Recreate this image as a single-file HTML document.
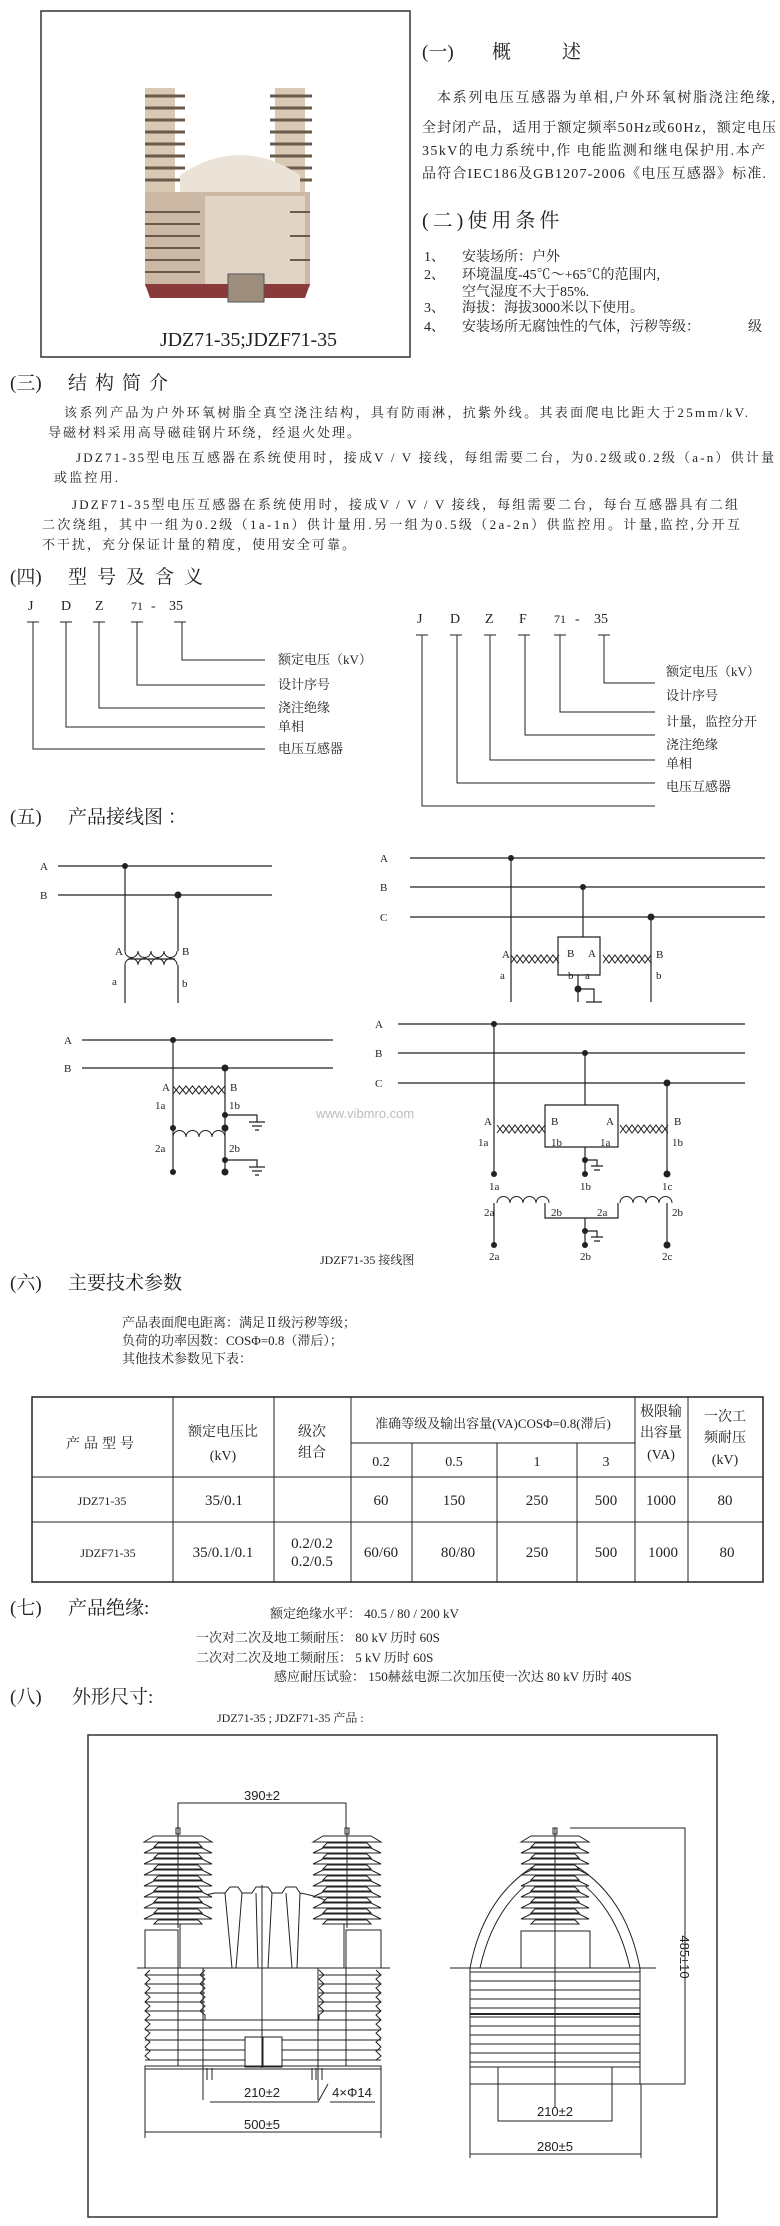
<!DOCTYPE html>
<html><head><meta charset="utf-8"><style>
html,body{margin:0;padding:0;background:#fff}
svg{display:block}
text{font-family:"Liberation Serif","Noto Serif CJK SC",serif;fill:#222}
.s{font-family:"Liberation Sans","Noto Sans CJK SC",sans-serif}
</style></head><body>
<svg width="780" height="2226" viewBox="0 0 780 2226" xmlns="http://www.w3.org/2000/svg">
<defs>
<g id="ins" fill="#fff" stroke="#222" stroke-width="1">
<rect x="-2" y="-6" width="4" height="6"/>
<polygon points="-34,8 -24,2 24,2 34,8 24,8 -24,8"/>
<polygon points="-24,13 -20,9 20,9 24,13"/>
<polygon points="-34,19 -24,14 24,14 34,19"/>
<polygon points="-24,24 -20,20 20,20 24,24"/>
<polygon points="-34,30 -24,25 24,25 34,30"/>
<polygon points="-24,35 -20,31 20,31 24,35"/>
<polygon points="-34,41 -24,36 24,36 34,41"/>
<polygon points="-24,46 -20,42 20,42 24,46"/>
<polygon points="-34,52 -24,47 24,47 34,52"/>
<polygon points="-24,57 -20,53 20,53 24,57"/>
<polygon points="-34,63 -24,58 24,58 34,63"/>
<polygon points="-24,68 -20,64 20,64 24,68"/>
<polygon points="-34,74 -24,69 24,69 34,74"/>
<polygon points="-24,79 -20,75 20,75 24,79"/>
<polygon points="-34,85 -24,80 24,80 34,85"/>
<polygon points="-24,90 -20,86 20,86 24,90"/>
<line x1="0" y1="-6" x2="0" y2="94"/>
</g>
<g id="xf" fill="none" stroke="#222" stroke-width="1">
<path d="M0,-4 l6,8 l6,-8 l6,8 l6,-8 l6,8 l6,-8 l6,8 l6,-8"/>
<path d="M0,4 l6,-8 l6,8 l6,-8 l6,8 l6,-8 l6,8 l6,-8 l6,8"/>
</g>
<g id="cl" fill="none" stroke="#222" stroke-width="1">
<path d="M0,0 a6.5,6.5 0 0 1 13,0 a6.5,6.5 0 0 1 13,0 a6.5,6.5 0 0 1 13,0 a6.5,6.5 0 0 1 13,0"/>
</g>
</defs>

<!-- Photo box -->
<rect x="41" y="11" width="369" height="346" fill="#fff" stroke="#333" stroke-width="1.5"/>
<g>
<rect x="145" y="88" width="30" height="110" fill="#d8c8b4"/>
<rect x="275" y="88" width="30" height="110" fill="#d8c8b4"/>
<g stroke="#6b5a4a" stroke-width="3">
<line x1="145" y1="96" x2="185" y2="96"/><line x1="145" y1="108" x2="185" y2="108"/><line x1="145" y1="120" x2="185" y2="120"/><line x1="145" y1="132" x2="185" y2="132"/><line x1="145" y1="144" x2="185" y2="144"/><line x1="145" y1="156" x2="185" y2="156"/><line x1="145" y1="168" x2="185" y2="168"/><line x1="145" y1="180" x2="185" y2="180"/>
<line x1="270" y1="96" x2="312" y2="96"/><line x1="270" y1="108" x2="312" y2="108"/><line x1="270" y1="120" x2="312" y2="120"/><line x1="270" y1="132" x2="312" y2="132"/><line x1="270" y1="144" x2="312" y2="144"/><line x1="270" y1="156" x2="312" y2="156"/><line x1="270" y1="168" x2="312" y2="168"/><line x1="270" y1="180" x2="312" y2="180"/>
</g>
<path d="M180,260 L180,175 Q240,135 300,175 L300,260 Z" fill="#ebe3d8"/>
<rect x="145" y="192" width="165" height="95" fill="#cbb9a5"/>
<rect x="205" y="196" width="100" height="90" fill="#e0d4c6"/>
<g stroke="#6b5a4a" stroke-width="2"><line x1="145" y1="212" x2="200" y2="212"/><line x1="145" y1="224" x2="200" y2="224"/><line x1="145" y1="236" x2="200" y2="236"/><line x1="145" y1="248" x2="200" y2="248"/><line x1="145" y1="260" x2="200" y2="260"/><line x1="145" y1="272" x2="200" y2="272"/><line x1="290" y1="212" x2="310" y2="212"/><line x1="290" y1="236" x2="310" y2="236"/><line x1="290" y1="260" x2="310" y2="260"/></g>
<path d="M145,284 L310,284 L305,298 L150,298 Z" fill="#8a3a3a"/>
<rect x="228" y="274" width="36" height="28" fill="#9d8d7d" stroke="#555"/>
</g>
<text x="160" y="346" font-size="20" textLength="177">JDZ71-35;JDZF71-35</text>

<!-- (一) -->
<text x="422" y="58" font-size="19">(一)</text>
<text x="492" y="58" font-size="19">概</text><text x="562" y="58" font-size="19">述</text>
<g font-size="14">
<text x="437" y="102" textLength="338">本系列电压互感器为单相,户外环氧树脂浇注绝缘,</text>
<text x="422" y="132" textLength="354">全封闭产品，适用于额定频率50Hz或60Hz，额定电压</text>
<text x="422" y="155" textLength="343">35kV的电力系统中,作 电能监测和继电保护用.本产</text>
<text x="422" y="178" textLength="344">品符合IEC186及GB1207-2006《电压互感器》标准.</text>
</g>
<text x="422" y="227" font-size="20" letter-spacing="4">(二)使用条件</text>
<g font-size="14">
<text x="424" y="261">1、</text><text x="462" y="261">安装场所：户外</text>
<text x="424" y="279">2、</text><text x="462" y="279">环境温度-45℃～+65℃的范围内,</text>
<text x="462" y="296">空气湿度不大于85%.</text>
<text x="424" y="312">3、</text><text x="462" y="312">海拔：海拔3000米以下使用。</text>
<text x="424" y="331">4、</text><text x="462" y="331">安装场所无腐蚀性的气体，污秽等级：</text><text x="748" y="331">级</text>
</g>

<!-- (三) -->
<text x="10" y="389" font-size="19">(三)</text>
<text x="68" y="389" font-size="19" letter-spacing="8">结构简介</text>
<g font-size="13">
<text x="64" y="417" textLength="684">该系列产品为户外环氧树脂全真空浇注结构，具有防雨淋，抗紫外线。其表面爬电比距大于25mm/kV.</text>
<text x="48" y="437" textLength="312">导磁材料采用高导磁硅钢片环绕，经退火处理。</text>
<text x="76" y="462" textLength="698">JDZ71-35型电压互感器在系统使用时，接成V / V 接线，每组需要二台，为0.2级或0.2级（a-n）供计量</text>
<text x="54" y="482" textLength="64">或监控用.</text>
<text x="72" y="509" textLength="666">JDZF71-35型电压互感器在系统使用时，接成V / V / V 接线，每组需要二台，每台互感器具有二组</text>
<text x="42" y="529" textLength="698">二次绕组，其中一组为0.2级（1a-1n）供计量用.另一组为0.5级（2a-2n）供监控用。计量,监控,分开互</text>
<text x="42" y="549" textLength="313">不干扰，充分保证计量的精度，使用安全可靠。</text>
</g>

<!-- (四) -->
<text x="10" y="583" font-size="19">(四)</text>
<text x="68" y="583" font-size="19" letter-spacing="10">型号及含义</text>
<g font-size="14">
<text x="28" y="610">J</text><text x="61" y="610">D</text><text x="95" y="610">Z</text><text x="131" y="610" font-size="12">71</text><text x="151" y="610">-</text><text x="169" y="610">35</text>
<text x="417" y="623">J</text><text x="450" y="623">D</text><text x="485" y="623">Z</text><text x="519" y="623">F</text><text x="554" y="623" font-size="12">71</text><text x="575" y="623">-</text><text x="594" y="623">35</text>
</g>
<g stroke="#222" stroke-width="1" fill="none">
<path d="M27,622 h12 M33,622 V749 H265"/>
<path d="M60,622 h12 M66,622 V727 H265"/>
<path d="M93,622 h12 M99,622 V708 H265"/>
<path d="M131,622 h12 M137,622 V685 H265"/>
<path d="M174,622 h12 M182,622 V660 H265"/>
<path d="M416,635 h12 M422,635 V806 H655"/>
<path d="M450,635 h12 M457,635 V783 H655"/>
<path d="M484,635 h12 M490,635 V760 H655"/>
<path d="M518,635 h12 M525,635 V735 H655"/>
<path d="M554,635 h12 M560,635 V712 H655"/>
<path d="M598,635 h12 M604,635 V683 H655"/>
</g>
<g font-size="13">
<text x="278" y="664">额定电压（kV）</text><text x="278" y="689">设计序号</text><text x="278" y="712">浇注绝缘</text><text x="278" y="731">单相</text><text x="278" y="753">电压互感器</text>
<text x="666" y="676">额定电压（kV）</text><text x="666" y="700">设计序号</text><text x="666" y="726">计量，监控分开</text><text x="666" y="749">浇注绝缘</text><text x="666" y="768">单相</text><text x="666" y="791">电压互感器</text>
</g>

<!-- (五) -->
<text x="10" y="823" font-size="19">(五)</text>
<text x="68" y="823" font-size="19">产品接线图 ：</text>

<g stroke="#222" stroke-width="1.2" fill="none">
<line x1="58" y1="866" x2="272" y2="866"/><line x1="58" y1="895" x2="272" y2="895"/>
<path d="M125,866 V951 M178,895 V951"/>
<line x1="128" y1="959" x2="175" y2="959"/>
<path d="M125,1003 V965 M178,1003 V965"/>
<line x1="410" y1="858" x2="765" y2="858"/><line x1="410" y1="887" x2="765" y2="887"/><line x1="410" y1="917" x2="765" y2="917"/>
<path d="M511,858 V1002 M583,887 V937 M651,917 V1002"/>
<path d="M558,959 V937 H600 V959"/>
<path d="M558,959 V975 H600 V959"/>
<path d="M578,975 V1002 M578,989 H594 V1002 M586,1002 H602"/>
<line x1="82" y1="1040" x2="333" y2="1040"/><line x1="82" y1="1068" x2="333" y2="1068"/>
<path d="M173,1040 V1172 M225,1068 V1172"/>
<path d="M225,1115 H257 V1122 M249,1122 h16 M252,1126 h10 M255,1130 h4"/>
<path d="M225,1160 H257 V1167 M249,1167 h16 M252,1171 h10 M255,1175 h4"/>
<line x1="398" y1="1024" x2="745" y2="1024"/><line x1="398" y1="1053" x2="745" y2="1053"/><line x1="398" y1="1083" x2="745" y2="1083"/>
<path d="M494,1024 V1174 M585,1053 V1105 M667,1083 V1174"/>
<path d="M545,1129 V1105 H618 V1129"/>
<path d="M545,1129 V1147 H618 V1129"/>
<path d="M585,1147 V1174 M585,1160 H597 V1166 M591,1166 h12 M594,1170 h6"/>
<path d="M494,1203 V1245 M667,1203 V1245"/>
<path d="M545,1203 V1218 H618 V1203"/>
<path d="M585,1218 V1245 M585,1231 H597 V1237 M591,1237 h12 M594,1241 h6"/>
</g>
<g fill="#222">
<circle cx="125" cy="866" r="3"/><circle cx="178" cy="895" r="3.5"/>
<circle cx="511" cy="858" r="3"/><circle cx="583" cy="887" r="3"/><circle cx="651" cy="917" r="3.5"/><circle cx="578" cy="989" r="3.5"/>
<circle cx="173" cy="1040" r="3"/><circle cx="225" cy="1068" r="3.5"/>
<circle cx="173" cy="1128" r="3"/><circle cx="225" cy="1128" r="3.5"/><circle cx="225" cy="1115" r="3"/>
<circle cx="173" cy="1172" r="3"/><circle cx="225" cy="1160" r="3"/><circle cx="225" cy="1172" r="3.5"/>
<circle cx="494" cy="1024" r="3"/><circle cx="585" cy="1053" r="3"/><circle cx="667" cy="1083" r="3.5"/>
<circle cx="585" cy="1160" r="3"/><circle cx="494" cy="1174" r="3"/><circle cx="585" cy="1174" r="3"/><circle cx="667" cy="1174" r="3.5"/>
<circle cx="585" cy="1231" r="3"/><circle cx="494" cy="1245" r="3"/><circle cx="585" cy="1245" r="3"/><circle cx="667" cy="1245" r="3.5"/>
</g>
<g transform="translate(125,951) scale(1,-1)"><use href="#cl"/></g>
<g transform="translate(125,965)"><use href="#cl"/></g>
<g transform="translate(511,959)"><use href="#xf"/></g>
<g transform="translate(603,959)"><use href="#xf"/></g>
<g transform="translate(173,1090) scale(1.08,1)"><use href="#xf"/></g>
<g transform="translate(173,1137)"><use href="#cl"/></g>
<g transform="translate(497,1129)"><use href="#xf"/></g>
<g transform="translate(620,1129)"><use href="#xf"/></g>
<g transform="translate(497,1203)"><use href="#cl"/></g>
<g transform="translate(620,1203)"><use href="#cl"/></g>
<g font-size="11">
<text x="40" y="870">A</text><text x="40" y="899">B</text>
<text x="115" y="955">A</text><text x="182" y="955">B</text><text x="112" y="985">a</text><text x="182" y="987">b</text>
<text x="380" y="862">A</text><text x="380" y="891">B</text><text x="380" y="921">C</text>
<text x="502" y="958">A</text><text x="567" y="957">B</text><text x="588" y="957">A</text><text x="656" y="958">B</text>
<text x="500" y="979">a</text><text x="568" y="979">b</text><text x="585" y="979">a</text><text x="656" y="979">b</text>
<text x="64" y="1044">A</text><text x="64" y="1072">B</text>
<text x="162" y="1091">A</text><text x="230" y="1091">B</text><text x="155" y="1109">1a</text><text x="229" y="1109">1b</text>
<text x="155" y="1152">2a</text><text x="229" y="1152">2b</text>
<text x="375" y="1028">A</text><text x="375" y="1057">B</text><text x="375" y="1087">C</text>
<text x="484" y="1125">A</text><text x="551" y="1125">B</text><text x="606" y="1125">A</text><text x="674" y="1125">B</text>
<text x="478" y="1146">1a</text><text x="551" y="1146">1b</text><text x="600" y="1146">1a</text><text x="672" y="1146">1b</text>
<text x="489" y="1190">1a</text><text x="580" y="1190">1b</text><text x="662" y="1190">1c</text>
<text x="484" y="1216">2a</text><text x="551" y="1216">2b</text><text x="597" y="1216">2a</text><text x="672" y="1216">2b</text>
<text x="489" y="1260">2a</text><text x="580" y="1260">2b</text><text x="662" y="1260">2c</text>
<text x="320" y="1264" font-size="12">JDZF71-35 接线图</text>
</g>
<text x="316" y="1118" class="s" font-size="13" style="fill:#bbb">www.vibmro.com</text>

<!-- (六) -->
<text x="10" y="1289" font-size="19">(六)</text>
<text x="68" y="1289" font-size="19">主要技术参数</text>
<g font-size="13">
<text x="122" y="1327">产品表面爬电距离：满足Ⅱ级污秽等级；</text>
<text x="122" y="1345">负荷的功率因数：COSΦ=0.8（滞后）；</text>
<text x="122" y="1363">其他技术参数见下表：</text>
</g>
<g stroke="#222" fill="none">
<rect x="32" y="1397" width="731" height="185" stroke-width="1.5"/>
<line x1="32" y1="1477" x2="763" y2="1477"/><line x1="32" y1="1522" x2="763" y2="1522"/>
<line x1="351" y1="1443" x2="635" y2="1443"/>
<path d="M173,1397 V1582 M274,1397 V1582 M351,1397 V1582 M635,1397 V1582 M688,1397 V1582 M412,1443 V1582 M497,1443 V1582 M577,1443 V1582"/>
</g>
<g font-size="14" text-anchor="middle">
<text x="102" y="1448" letter-spacing="4">产品型号</text>
<text x="223" y="1436">额定电压比</text><text x="223" y="1460">(kV)</text>
<text x="312" y="1436">级次</text><text x="312" y="1457">组合</text>
<text x="493" y="1428" font-size="13">准确等级及输出容量(VA)COSΦ=0.8(滞后)</text>
<text x="381" y="1466">0.2</text><text x="454" y="1466">0.5</text><text x="537" y="1466">1</text><text x="606" y="1466">3</text>
<text x="661" y="1416">极限输</text><text x="661" y="1437">出容量</text><text x="661" y="1459">(VA)</text>
<text x="725" y="1421">一次工</text><text x="725" y="1442">频耐压</text><text x="725" y="1464">(kV)</text>
<text x="102" y="1505" font-size="12">JDZ71-35</text><text x="205" y="1505" text-anchor="start" font-size="15">35/0.1</text>
<text x="381" y="1505" font-size="15">60</text><text x="454" y="1505" font-size="15">150</text><text x="537" y="1505" font-size="15">250</text><text x="606" y="1505" font-size="15">500</text><text x="661" y="1505" font-size="15">1000</text><text x="725" y="1505" font-size="15">80</text>
<text x="108" y="1557" font-size="12">JDZF71-35</text><text x="223" y="1557" font-size="15">35/0.1/0.1</text>
<text x="312" y="1548" font-size="15">0.2/0.2</text><text x="312" y="1566" font-size="15">0.2/0.5</text>
<text x="381" y="1557" font-size="15">60/60</text><text x="458" y="1557" font-size="15">80/80</text><text x="537" y="1557" font-size="15">250</text><text x="606" y="1557" font-size="15">500</text><text x="663" y="1557" font-size="15">1000</text><text x="727" y="1557" font-size="15">80</text>
</g>

<!-- (七) -->
<text x="10" y="1614" font-size="19">(七)</text>
<text x="68" y="1614" font-size="19">产品绝缘:</text>
<g font-size="13">
<text x="270" y="1618">额定绝缘水平：   40.5 / 80 / 200  kV</text>
<text x="196" y="1642">一次对二次及地工频耐压： 80 kV   历时  60S</text>
<text x="196" y="1662">二次对二次及地工频耐压：  5 kV   历时  60S</text>
<text x="274" y="1681">感应耐压试验： 150赫兹电源二次加压使一次达  80  kV 历时  40S</text>
</g>
<text x="10" y="1703" font-size="19">(八)</text>
<text x="72" y="1703" font-size="19">外形尺寸:</text>
<text x="217" y="1722" font-size="12">JDZ71-35  ;  JDZF71-35   产品 :</text>

<rect x="88" y="1735" width="629" height="482" fill="none" stroke="#333" stroke-width="1.5"/>
<g stroke="#222" stroke-width="1" fill="none">
<path d="M178,1831 V1803 H346 V1831"/>
<path d="M180,1968 V1915 Q185,1898 215,1893 L225,1893 L230,1887 L238,1887 L242,1893 L252,1893 L256,1887 L268,1887 L272,1893 L282,1893 L286,1887 L296,1887 L300,1893 Q340,1900 344,1920 V1968" fill="#fff"/>
<path d="M225,1893 L232,1968 M242,1893 L236,1968 M256,1893 L258,1968 M272,1893 L268,1968 M286,1893 L292,1968 M300,1893 L297,1968"/>
<line x1="262" y1="1885" x2="262" y2="2068"/>
<rect x="145" y="1930" width="33" height="38"/><rect x="346" y="1930" width="35" height="38"/>
<line x1="137" y1="1968" x2="390" y2="1968"/>
<path d="M145,1975 H205 M145,1984 H205 M145,1993 H205 M145,2002 H205 M145,2011 H205 M319,1975 H381 M319,1984 H381 M319,1993 H381 M319,2002 H381 M319,2011 H381"/>
<path d="M150,1970 l-5,5 l5,4 l-5,5 l5,4 l-5,5 l5,4 l-5,5 l5,4 l-5,5 l5,4 l-5,5 l5,4 l-5,5 l5,4 l-5,5 l5,4 l-5,5 l5,4 l-5,5 l5,4"/>
<path d="M376,1970 l5,5 l-5,4 l5,5 l-5,4 l5,5 l-5,4 l5,5 l-5,4 l5,5 l-5,4 l5,5 l-5,4 l5,5 l-5,4 l5,5 l-5,4 l5,5 l-5,4 l5,5 l-5,4"/>
<path d="M205,1970 l-5,5 l5,4 l-5,5 l5,4 l-5,5 l5,4 l-5,5 l5,4 l-5,5 l5,4 V2020 M319,1970 l5,5 l-5,4 l5,5 l-5,4 l5,5 l-5,4 l5,5 l-5,4 l5,5 l-5,4 V2020"/>
<path d="M145,2020 H381 M145,2030 H381 M145,2040 H245 M282,2040 H381 M145,2050 H245 M282,2050 H381 M145,2060 H245 M282,2060 H381"/>
<rect x="245" y="2037" width="37" height="30"/><line x1="263" y1="2037" x2="263" y2="2067"/>
<rect x="145" y="2066" width="236" height="3"/>
<path d="M178,1968 V2066 M346,1968 V2066 M203,1968 V2100 M318,1968 V2100"/>
<path d="M203,2068 v12 M207,2068 v12 M212,2068 v12 M312,2068 v12 M316,2068 v12 M322,2068 v12"/>
<path d="M210,2102 H318 M318,2102 L328,2084 M330,2102 H375"/>
<path d="M145,2069 V2138 M381,2069 V2138 M145,2132 H381"/>
<path d="M470,1968 Q485,1890 545,1860 M480,1968 Q495,1900 545,1872 M640,1968 Q625,1890 565,1860 M630,1968 Q615,1900 565,1872"/>
<rect x="521" y="1931" width="69" height="37"/>
<line x1="450" y1="1968" x2="656" y2="1968"/>
<path d="M470,1972 H640 M470,1981 H640 M470,1990 H640 M470,1999 H640 M470,2008 H640 M470,2017 H640 M470,2026 H640 M470,2035 H640 M470,2044 H640 M470,2053 H640 M470,2062 H640"/>
<line x1="470" y1="2014" x2="640" y2="2014" stroke-width="2"/>
<path d="M470,1968 V2084 H640 V1968 M470,2067 H640"/>
<path d="M498,2067 V2121 H612 V2067"/>
<line x1="555" y1="1828" x2="555" y2="2108"/>
<path d="M470,2084 V2158 M641,2084 V2158 M470,2154 H641"/>
<path d="M570,1828 H685 V2084 H640"/>
</g>
<use href="#ins" transform="translate(178,1834)"/>
<use href="#ins" transform="translate(347,1834)"/>
<use href="#ins" transform="translate(555,1834)"/>
<g font-size="13" text-anchor="middle">
<text x="262" y="1800" class="s">390±2</text>
<text x="262" y="2097" class="s">210±2</text>
<text x="352" y="2097" class="s">4×Φ14</text>
<text x="262" y="2129" class="s">500±5</text>
<text x="555" y="2116" class="s">210±2</text>
<text x="555" y="2151" class="s">280±5</text>
<text x="0" y="0" class="s" transform="translate(680,1957) rotate(90)">485±10</text>
</g>
</svg>
</body></html>
